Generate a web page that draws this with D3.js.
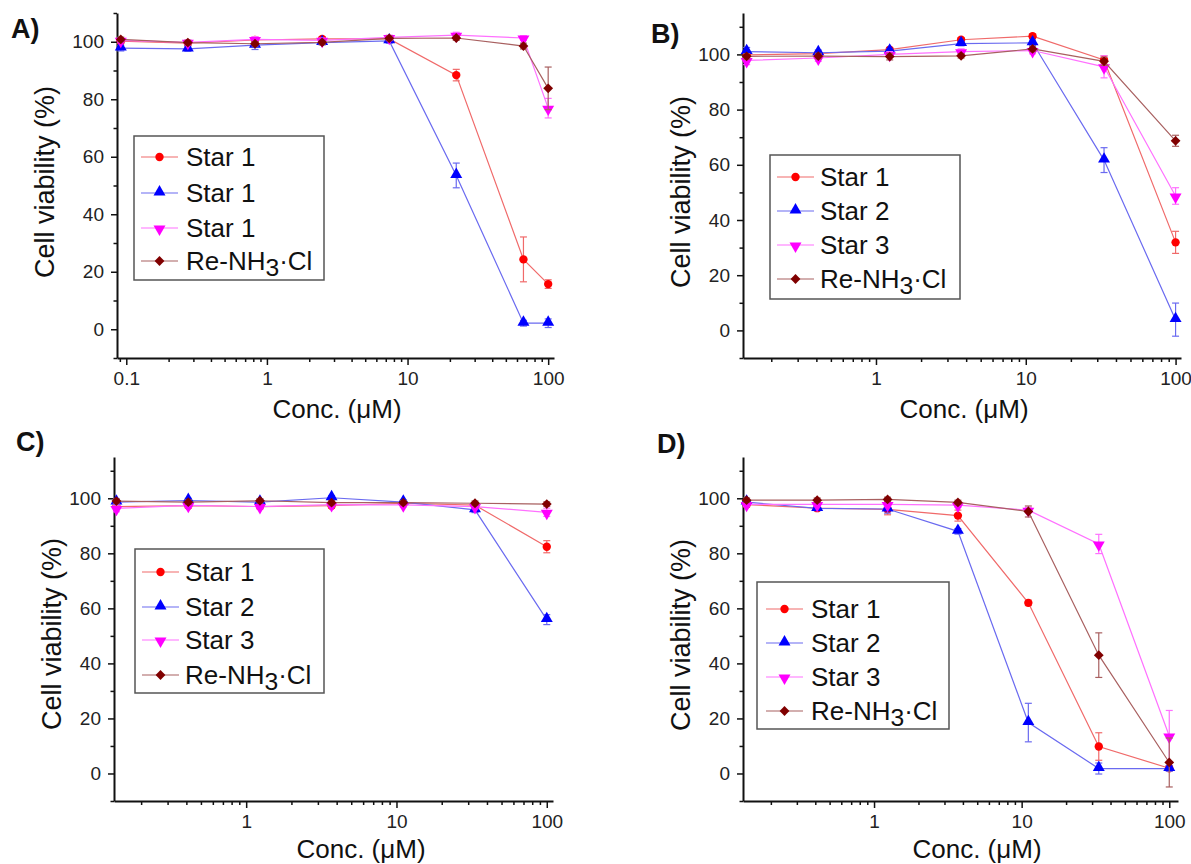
<!DOCTYPE html>
<html>
<head>
<meta charset="utf-8">
<script src="https://cdn.jsdelivr.net/npm/d3@7"></script>
<style>
  html, body { margin: 0; padding: 0; background: #fff; }
  svg { display: block; }
  text { font-family: "Liberation Sans", Arial, Helvetica, sans-serif; }
</style>
</head>
<body>
<svg id="chart" width="1191" height="864"></svg>
<script>
// Concentrations (µM)
const concA = [0.0914, 0.274, 0.823, 2.47, 7.41, 22.2, 66.7, 100];
const concBCD = [0.137, 0.412, 1.235, 3.70, 11.1, 33.3, 100];

// Legend labels
const labelsA = ["Star 1", "Star 1", "Star 1", "Re-NH3·Cl"];
const labelsBCD = ["Star 1", "Star 2", "Star 3", "Re-NH3·Cl"];

// Panel A: viability (%) and error
const aStar1 = [100.2, 99.5, 100.6, 101.0, 101.0, 88.4, 24.3, 15.7];
const aStar1Err = [0.8, 0.8, 1.0, 0.8, 0.8, 2.0, 7.8, 1.5];
const aStar2 = [97.8, 97.5, 98.8, 99.7, 100.3, 53.5, 2.1, 2.1];
const aStar2Err = [1.0, 0.8, 1.5, 0.8, 0.8, 4.3, 1.0, 1.5];
const aStar3 = [100.5, 99.8, 100.8, 100.5, 101.5, 102.3, 101.3, 76.9];
const aStar3Err = [0.8, 0.8, 1.0, 0.8, 0.8, 1.0, 0.8, 3.4];
const aRe = [100.8, 99.7, 99.3, 99.8, 101.2, 101.3, 98.5, 83.8];
const aReErr = [0.8, 0.8, 0.8, 0.8, 0.8, 0.8, 1.0, 7.4];

// Panel B
const bStar1 = [99.8, 100.3, 101.7, 105.3, 106.6, 98.0, 31.9];
const bStar1Err = [1.0, 0.8, 0.8, 0.8, 0.8, 1.5, 4.0];
const bStar2 = [101.0, 100.6, 101.2, 103.9, 104.2, 61.7, 3.9];
const bStar2Err = [1.5, 1.0, 0.8, 0.8, 1.0, 4.5, 6.0];
const bStar3 = [97.8, 98.7, 100.0, 101.0, 101.4, 95.5, 48.7];
const bStar3Err = [1.5, 1.2, 1.0, 1.0, 1.2, 4.0, 3.0];
const bRe = [99.3, 99.4, 99.2, 99.5, 102.0, 97.5, 68.7];
const bReErr = [1.0, 1.0, 1.2, 0.8, 1.0, 1.5, 2.0];

// Panel C
const cStar1 = [97.0, 97.3, 97.0, 97.3, 98.2, 97.5, 82.4];
const cStar1Err = [0.8, 0.8, 0.8, 0.8, 0.8, 0.8, 2.2];
const cStar2 = [98.6, 99.2, 98.6, 100.2, 98.6, 95.8, 55.9];
const cStar2Err = [0.8, 0.8, 0.8, 0.8, 0.8, 1.0, 1.8];
const cStar3 = [96.3, 97.4, 97.0, 97.7, 97.6, 97.0, 94.9];
const cStar3Err = [1.2, 0.8, 0.8, 0.8, 0.8, 0.8, 1.5];
const cRe = [99.0, 98.6, 99.1, 98.4, 98.4, 98.2, 97.9];
const cReErr = [0.8, 0.8, 0.8, 0.8, 0.8, 0.8, 0.8];

// Panel D
const dStar1 = [97.7, 96.4, 96.0, 93.7, 62.0, 9.8, 1.9];
const dStar1Err = [0.8, 0.8, 2.0, 2.0, 1.0, 5.0, 1.0];
const dStar2 = [98.6, 96.3, 96.1, 88.0, 18.5, 1.8, 1.8];
const dStar2Err = [0.8, 0.8, 1.5, 1.0, 7.0, 2.0, 1.0];
const dStar3 = [97.8, 97.8, 97.8, 97.5, 95.7, 83.4, 13.6];
const dStar3Err = [0.8, 0.8, 0.8, 0.8, 1.0, 3.5, 9.3];
const dRe = [99.3, 99.3, 99.6, 98.5, 95.2, 43.0, 4.0];
const dReErr = [0.8, 0.8, 0.8, 0.8, 2.0, 8.1, 8.9];

// Axis tick values
const yMajor = [0, 20, 40, 60, 80, 100];
const xMajorA = [0.1, 1, 10, 100];
const xMajorBCD = [1, 10, 100];

// Series styling: marker colour, line colour, symbol
const styles = [
  { fill: "#ff0000", line: "#f06a6a", sym: "circle" },
  { fill: "#0000ff", line: "#6a6af0", sym: "up" },
  { fill: "#ff00ff", line: "#ff70ff", sym: "down" },
  { fill: "#800000", line: "#a86060", sym: "diamond" }
];

const panels = [
  { tag: "A)", tagX: 11, tagY: 38, left: 117, right: 554, top: 13, bottom: 358,
    xDom: [0.0859, 110], yDom: [-10, 110], conc: concA, xMajor: xMajorA, labels: labelsA,
    series: [[aStar1, aStar1Err], [aStar2, aStar2Err], [aStar3, aStar3Err], [aRe, aReErr]],
    yTitleX: 54, yTitleY: 182, xTitleX: 337, xTitleY: 418,
    legend: { x: 134, y: 136, w: 190, h: 144, rows: [157, 193, 228, 261], lx0: 141, lx1: 178, tx: 186 } },
  { tag: "B)", tagX: 651, tagY: 43, left: 743, right: 1181, top: 13, bottom: 358,
    xDom: [0.1295, 108.7], yDom: [-10, 115], conc: concBCD, xMajor: xMajorBCD, labels: labelsBCD,
    series: [[bStar1, bStar1Err], [bStar2, bStar2Err], [bStar3, bStar3Err], [bRe, bReErr]],
    yTitleX: 690, yTitleY: 192, xTitleX: 964, xTitleY: 418,
    legend: { x: 770, y: 155, w: 190, h: 144, rows: [177, 211, 245, 279], lx0: 777, lx1: 814, tx: 820 } },
  { tag: "C)", tagX: 16, tagY: 451, left: 114, right: 553, top: 457, bottom: 801,
    xDom: [0.132, 110], yDom: [-10, 115], conc: concBCD, xMajor: xMajorBCD, labels: labelsBCD,
    series: [[cStar1, cStar1Err], [cStar2, cStar2Err], [cStar3, cStar3Err], [cRe, cReErr]],
    yTitleX: 61, yTitleY: 634, xTitleX: 361, xTitleY: 858,
    legend: { x: 135, y: 549, w: 189, h: 144, rows: [572, 607, 640, 675], lx0: 142, lx1: 179, tx: 185 } },
  { tag: "D)", tagX: 657, tagY: 453, left: 743, right: 1178, top: 457, bottom: 801,
    xDom: [0.1295, 114.6], yDom: [-10, 115], conc: concBCD, xMajor: xMajorBCD, labels: labelsBCD,
    series: [[dStar1, dStar1Err], [dStar2, dStar2Err], [dStar3, dStar3Err], [dRe, dReErr]],
    yTitleX: 690, yTitleY: 635, xTitleX: 977, xTitleY: 858,
    legend: { x: 757, y: 582, w: 192, h: 147, rows: [609, 643, 677, 711], lx0: 766, lx1: 803, tx: 811 } }
];

const svg = d3.select("#chart");
svg.append("rect").attr("width", 1191).attr("height", 864).attr("fill", "#fff");

function symbolPath(kind) {
  if (kind === "circle") return d3.symbol(d3.symbolCircle, 55)();
  if (kind === "up" || kind === "down") return d3.symbol(d3.symbolTriangle, 62)();
  return d3.symbol(d3.symbolSquare, 48)();
}
function symbolTransform(kind, x, y) {
  if (kind === "down") return `translate(${x},${y + 1}) rotate(180)`;
  if (kind === "up") return `translate(${x},${y - 1})`;
  if (kind === "diamond") return `translate(${x},${y}) rotate(45)`;
  return `translate(${x},${y})`;
}

function minorLogTicks(dom) {
  const out = [];
  for (let e = -2; e <= 2; e++) {
    for (let m = 1; m <= 9; m++) {
      const v = m * Math.pow(10, e);
      if (m === 1) continue;
      if (v >= dom[0] && v <= dom[1]) out.push(v);
    }
  }
  return out;
}

function labelText(sel, str, fs) {
  // Re-NH3·Cl gets a lowered "3"
  const m = str.match(/^(Re-NH)3(·Cl)$/);
  if (!m) { sel.text(str); return; }
  sel.append("tspan").text(m[1]);
  sel.append("tspan").attr("dy", fs * 0.22).attr("font-size", fs * 0.95).text("3");
  sel.append("tspan").attr("dy", -fs * 0.22).text(m[2]);
}

panels.forEach(p => {
  const g = svg.append("g");
  const x = d3.scaleLog().domain(p.xDom).range([p.left, p.right]);
  const y = d3.scaleLinear().domain(p.yDom).range([p.bottom, p.top]);

  // minor ticks
  const yMinor = d3.range(p.yDom[0], p.yDom[1] + 0.1, 20);
  g.append("g").attr("transform", `translate(${p.left},0)`)
    .call(d3.axisLeft(y).tickValues(yMinor).tickSize(3.5).tickFormat(""))
    .call(s => s.select(".domain").remove())
    .call(s => s.selectAll("line").attr("stroke", "#111").attr("stroke-width", 1.5));
  g.append("g").attr("transform", `translate(0,${p.bottom})`)
    .call(d3.axisBottom(x).tickValues(minorLogTicks(p.xDom)).tickSize(4).tickFormat(""))
    .call(s => s.select(".domain").remove())
    .call(s => s.selectAll("line").attr("stroke", "#111").attr("stroke-width", 1.5));

  // major axes
  g.append("g").attr("transform", `translate(${p.left},0)`)
    .call(d3.axisLeft(y).tickValues(yMajor).tickSize(6).tickPadding(7).tickSizeOuter(0).tickFormat(d3.format("d")))
    .call(s => s.select(".domain").attr("stroke", "#111").attr("stroke-width", 2))
    .call(s => s.selectAll("line").attr("stroke", "#111").attr("stroke-width", 1.5))
    .call(s => s.selectAll("text").attr("font-size", 19).attr("fill", "#222")
      .attr("font-family", "'Liberation Sans', Arial, sans-serif"));
  g.append("g").attr("transform", `translate(0,${p.bottom})`)
    .call(d3.axisBottom(x).tickValues(p.xMajor).tickSize(7).tickPadding(7).tickSizeOuter(0).tickFormat(d3.format("~g")))
    .call(s => s.select(".domain").attr("stroke", "#111").attr("stroke-width", 2))
    .call(s => s.selectAll("line").attr("stroke", "#111").attr("stroke-width", 1.5))
    .call(s => s.selectAll("text").attr("font-size", 19).attr("fill", "#222")
      .attr("font-family", "'Liberation Sans', Arial, sans-serif"));

  // titles
  g.append("text").attr("transform", `translate(${p.yTitleX},${p.yTitleY}) rotate(-90)`)
    .attr("text-anchor", "middle").attr("font-size", 27).attr("fill", "#111")
    .text("Cell viability (%)");
  g.append("text").attr("x", p.xTitleX).attr("y", p.xTitleY)
    .attr("text-anchor", "middle").attr("font-size", 26).attr("fill", "#111")
    .text("Conc. (\u03BCM)");
  g.append("text").attr("x", p.tagX).attr("y", p.tagY)
    .attr("font-size", 27).attr("font-weight", "bold").attr("fill", "#111")
    .text(p.tag);

  // series
  p.series.forEach(([vals, errs], i) => {
    const st = styles[i];
    const pts = p.conc.map((c, k) => ({ c, v: vals[k], e: errs[k] }));
    const sg = g.append("g");
    sg.selectAll("g.err").data(pts).join("g").attr("class", "err")
      .each(function (d) {
        const eg = d3.select(this);
        const cx = x(d.c), y0 = y(d.v - d.e), y1 = y(d.v + d.e);
        eg.append("line").attr("x1", cx).attr("x2", cx).attr("y1", y0).attr("y2", y1);
        eg.append("line").attr("x1", cx - 3.5).attr("x2", cx + 3.5).attr("y1", y0).attr("y2", y0);
        eg.append("line").attr("x1", cx - 3.5).attr("x2", cx + 3.5).attr("y1", y1).attr("y2", y1);
      })
      .selectAll("line").attr("stroke", st.line).attr("stroke-width", 1.2);
    sg.append("path").datum(pts)
      .attr("d", d3.line().x(d => x(d.c)).y(d => y(d.v)))
      .attr("fill", "none").attr("stroke", st.line).attr("stroke-width", 1.2);
    sg.selectAll("path.mk").data(pts).join("path").attr("class", "mk")
      .attr("d", symbolPath(st.sym))
      .attr("transform", d => symbolTransform(st.sym, x(d.c), y(d.v)))
      .attr("fill", st.fill);
  });

  // legend
  const L = p.legend;
  const lg = g.append("g");
  lg.append("rect").attr("x", L.x).attr("y", L.y).attr("width", L.w).attr("height", L.h)
    .attr("fill", "#fff").attr("stroke", "#555").attr("stroke-width", 1.5);
  p.labels.forEach((lab, i) => {
    const st = styles[i];
    const ry = L.rows[i];
    lg.append("line").attr("x1", L.lx0).attr("x2", L.lx1).attr("y1", ry).attr("y2", ry)
      .attr("stroke", st.line).attr("stroke-width", 1.2);
    lg.append("path").attr("d", symbolPath(st.sym))
      .attr("transform", symbolTransform(st.sym, (L.lx0 + L.lx1) / 2, ry))
      .attr("fill", st.fill);
    const t = lg.append("text").attr("x", L.tx).attr("y", ry + 9)
      .attr("font-size", 26).attr("fill", "#111");
    labelText(t, lab, 26);
  });
});
</script>
</body>
</html>
